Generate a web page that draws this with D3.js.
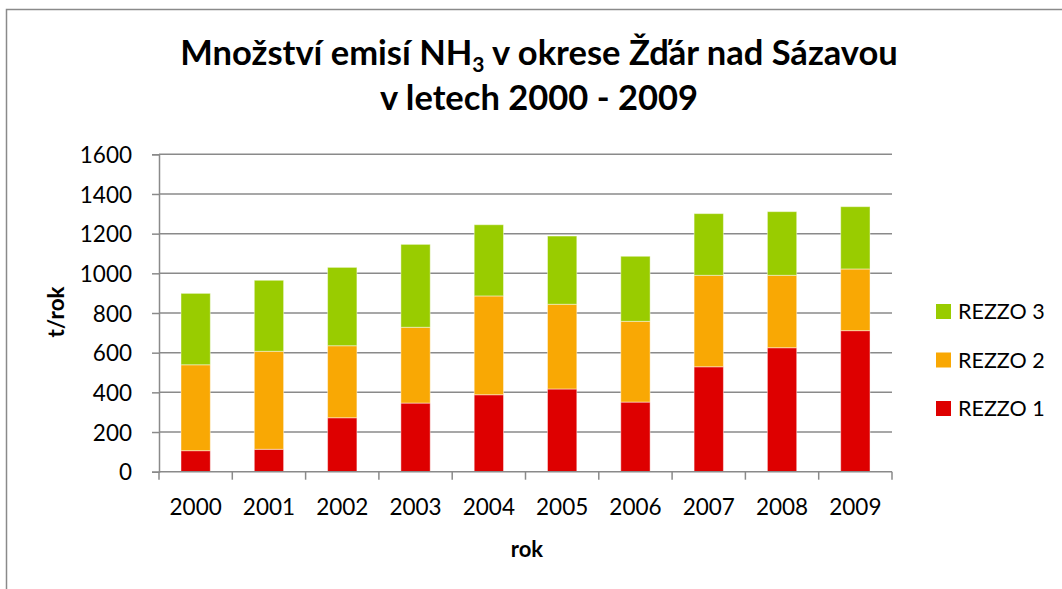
<!DOCTYPE html>
<html>
<head>
<meta charset="utf-8">
<script src="https://cdn.jsdelivr.net/npm/d3@7"></script>
<style>
  html, body { margin: 0; padding: 0; background: #fff; }
  svg { display: block; }
  text { font-family: Lato, "Open Sans", "DejaVu Sans", sans-serif; fill: #000; }
</style>
</head>
<body>
<svg id="chart" width="1062" height="589"></svg>
<script>
// Annual NH3 emissions (t/rok), district Žďár nad Sázavou, by REZZO source category
const years = ["2000", "2001", "2002", "2003", "2004", "2005", "2006", "2007", "2008", "2009"];
const rezzo1 = [106, 113, 272, 346, 388, 417, 351, 529, 625, 711];
const rezzo2 = [433, 494, 363, 382, 498, 427, 407, 461, 365, 311];
const rezzo3 = [360, 358, 395, 418, 359, 344, 328, 311, 321, 314];
const seriesNames = ["REZZO 1", "REZZO 2", "REZZO 3"];
const seriesColors = ["#DE0000", "#F9A804", "#99CC00"];
const yTicks = [0, 200, 400, 600, 800, 1000, 1200, 1400, 1600];

const svg = d3.select("#chart");

// outer chart frame (open to the right and bottom)
svg.append("path")
  .attr("d", "M6.5,589 V9.5 H1062")
  .attr("fill", "none")
  .attr("stroke", "#8a8a8a")
  .attr("stroke-width", 1.5);

const x = d3.scaleBand()
  .domain(years)
  .range([159, 892])
  .paddingInner(0.6)
  .paddingOuter(0.3);

const y = d3.scaleLinear()
  .domain([0, 1600])
  .range([471.7, 154.3]);

// y axis
const yAxis = d3.axisLeft(y)
  .tickValues(yTicks)
  .tickSize(7)
  .tickPadding(20)
  .tickFormat(d3.format("d"));

const gy = svg.append("g")
  .attr("transform", "translate(159,0)")
  .call(yAxis);
gy.select(".domain").attr("stroke", "#8a8a8a").attr("stroke-width", 1.5);
gy.selectAll(".tick line").attr("stroke", "#8a8a8a").attr("stroke-width", 1.5);
gy.selectAll(".tick text")
  .style("font-size", "22.5px")
  .attr("dy", "0.36em");

// horizontal gridlines
svg.append("g")
  .selectAll("line")
  .data(yTicks.filter(d => d > 0))
  .join("line")
  .attr("x1", 159)
  .attr("x2", 892)
  .attr("y1", d => y(d))
  .attr("y2", d => y(d))
  .attr("stroke", "#8a8a8a")
  .attr("stroke-width", 1.5);

// stacked bars
const table = years.map((yr, i) => ({
  year: yr,
  "REZZO 1": rezzo1[i],
  "REZZO 2": rezzo2[i],
  "REZZO 3": rezzo3[i]
}));
const stacked = d3.stack().keys(seriesNames)(table);

svg.append("g")
  .selectAll("g")
  .data(stacked)
  .join("g")
  .attr("fill", (d, i) => seriesColors[i])
  .selectAll("rect")
  .data(d => d)
  .join("rect")
  .attr("x", d => x(d.data.year))
  .attr("width", x.bandwidth())
  .attr("y", d => y(d[1]))
  .attr("height", d => y(d[0]) - y(d[1]))
  .attr("stroke", "rgba(255,255,255,0.45)")
  .attr("stroke-width", 1);

// x axis with ticks at category boundaries
const step = x.step();
const boundaries = d3.range(years.length + 1).map(i => 159 + i * step);
const gx = svg.append("g");
gx.append("line")
  .attr("x1", 159).attr("x2", 892)
  .attr("y1", y(0)).attr("y2", y(0))
  .attr("stroke", "#8a8a8a").attr("stroke-width", 1.5);
gx.selectAll("line.tk")
  .data(boundaries)
  .join("line")
  .attr("class", "tk")
  .attr("x1", d => d).attr("x2", d => d)
  .attr("y1", y(0)).attr("y2", y(0) + 8)
  .attr("stroke", "#8a8a8a").attr("stroke-width", 1.5);
gx.selectAll("text")
  .data(years)
  .join("text")
  .attr("x", d => x(d) + x.bandwidth() / 2)
  .attr("y", 515)
  .attr("text-anchor", "middle")
  .style("font-size", "22.5px")
  .text(d => d);

// axis titles
svg.append("text")
  .attr("x", 527)
  .attr("y", 557)
  .attr("text-anchor", "middle")
  .style("font-size", "22px")
  .style("font-weight", "bold")
  .text("rok");

svg.append("text")
  .attr("transform", "translate(64,312) rotate(-90)")
  .attr("text-anchor", "middle")
  .style("font-size", "22.5px")
  .style("font-weight", "bold")
  .text("t/rok");

// title
const title = svg.append("text")
  .attr("x", 539)
  .attr("y", 65)
  .attr("text-anchor", "middle")
  .style("font-size", "34.5px")
  .style("font-weight", "bold");
title.append("tspan").text("Množství emisí NH");
title.append("tspan").attr("dy", 7).style("font-size", "21px").text("3");
title.append("tspan").attr("dy", -7).text(" v okrese Žďár nad Sázavou");

svg.append("text")
  .attr("x", 539)
  .attr("y", 110)
  .attr("text-anchor", "middle")
  .style("font-size", "34.5px")
  .style("font-weight", "bold")
  .text("v letech 2000 - 2009");

// legend (top to bottom: REZZO 3, REZZO 2, REZZO 1)
const legendItems = seriesNames.map((n, i) => ({ name: n, color: seriesColors[i] })).reverse();
const lg = svg.append("g")
  .selectAll("g")
  .data(legendItems)
  .join("g")
  .attr("transform", (d, i) => `translate(936,${304 + i * 48.5})`);
lg.append("rect")
  .attr("width", 15)
  .attr("height", 15)
  .attr("fill", d => d.color);
lg.append("text")
  .attr("x", 22)
  .attr("y", 15)
  .style("font-size", "21.5px")
  .text(d => d.name);
</script>
</body>
</html>
